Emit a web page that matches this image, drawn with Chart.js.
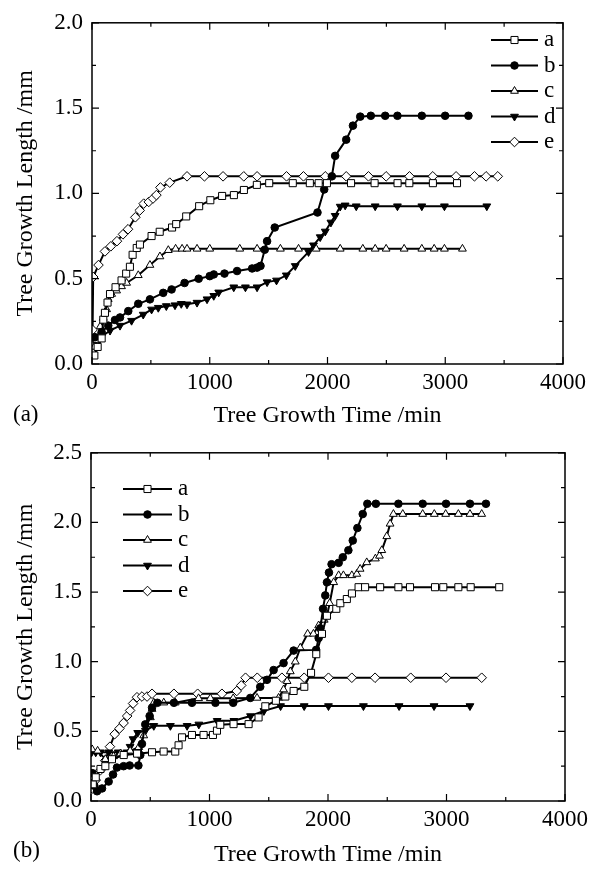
<!DOCTYPE html>
<html>
<head>
<meta charset="utf-8">
<title>Tree Growth Length vs Time</title>
<script src="https://cdn.jsdelivr.net/npm/chart.js@4.4.1/dist/chart.umd.min.js"></script>
<style>
  html, body { margin: 0; padding: 0; background: #fff; }
  body { width: 595px; height: 869px; position: relative; overflow: hidden; }
  .panel { position: absolute; left: 0; width: 595px; }
  #panelA { top: 0; height: 430px; }
  #panelB { top: 430px; height: 439px; }
  .tag { position: absolute; left: 13px; font: 23px 'Liberation Serif', 'Times New Roman', serif; color: #000; }
</style>
</head>
<body>
<div class="panel" id="panelA"><canvas id="chartA"></canvas></div>
<div class="panel" id="panelB"><canvas id="chartB"></canvas></div>
<div class="tag" style="top:401px">(a)</div>
<div class="tag" style="top:837px">(b)</div>
<script>
// ---- data: panel (a) ----
const labelsAB = ['a', 'b', 'c', 'd', 'e'];
const xTicks = [0, 1000, 2000, 3000, 4000];

const aTopX = [20, 48, 82, 96, 110, 132, 153, 200, 251, 290, 322, 345, 380, 407, 506, 575, 680, 715, 800, 910, 1005, 1105, 1205, 1290, 1400, 1505, 1705, 1850, 1925, 1995, 2200, 2400, 2595, 2695, 2895, 3100];
const aTopY = [0.05, 0.10, 0.15, 0.26, 0.30, 0.36, 0.41, 0.45, 0.49, 0.53, 0.57, 0.64, 0.68, 0.70, 0.75, 0.775, 0.80, 0.82, 0.865, 0.925, 0.96, 0.985, 0.99, 1.02, 1.05, 1.06, 1.06, 1.06, 1.06, 1.06, 1.06, 1.06, 1.06, 1.06, 1.06, 1.06];

const bTopX = [25, 82, 138, 195, 238, 308, 393, 492, 605, 676, 786, 906, 1000, 1034, 1125, 1232, 1360, 1402, 1431, 1467, 1487, 1552, 1915, 1972, 2037, 2065, 2159, 2216, 2278, 2368, 2490, 2594, 2801, 2999, 3197];
const bTopY = [0.157, 0.186, 0.225, 0.258, 0.273, 0.31, 0.353, 0.379, 0.417, 0.437, 0.475, 0.50, 0.515, 0.525, 0.53, 0.545, 0.56, 0.565, 0.575, 0.67, 0.72, 0.80, 0.888, 1.023, 1.10, 1.22, 1.315, 1.397, 1.45, 1.455, 1.455, 1.455, 1.455, 1.455, 1.455];

const cTopX = [20, 40, 70, 96, 124, 138, 167, 209, 251, 294, 393, 492, 577, 648, 710, 765, 807, 892, 1000, 1255, 1402, 1600, 1754, 1904, 2108, 2300, 2405, 2498, 2651, 2801, 2906, 2993, 3146];
const cTopY = [0.10, 0.14, 0.22, 0.27, 0.32, 0.38, 0.41, 0.43, 0.455, 0.475, 0.52, 0.58, 0.63, 0.667, 0.675, 0.675, 0.675, 0.675, 0.675, 0.675, 0.675, 0.675, 0.675, 0.675, 0.675, 0.675, 0.675, 0.675, 0.675, 0.675, 0.675, 0.675, 0.675];

const dTopX = [25, 82, 153, 238, 336, 435, 506, 563, 631, 705, 758, 807, 892, 977, 1034, 1076, 1204, 1303, 1402, 1487, 1567, 1650, 1726, 1839, 1881, 1938, 1981, 2029, 2065, 2108, 2150, 2244, 2405, 2594, 2801, 2993, 3353];
const dTopY = [0.138, 0.16, 0.196, 0.225, 0.254, 0.29, 0.32, 0.33, 0.34, 0.345, 0.353, 0.35, 0.36, 0.38, 0.40, 0.42, 0.45, 0.45, 0.45, 0.48, 0.49, 0.52, 0.575, 0.657, 0.696, 0.744, 0.777, 0.83, 0.869, 0.923, 0.93, 0.925, 0.925, 0.925, 0.925, 0.925, 0.925];

const eTopX = [5, 10, 55, 110, 160, 212, 263, 306, 368, 405, 439, 482, 518, 547, 581, 660, 807, 955, 1113, 1289, 1402, 1652, 1796, 1981, 2159, 2348, 2498, 2696, 2894, 3092, 3248, 3347, 3446];
const eTopY = [0.20, 0.51, 0.58, 0.66, 0.69, 0.72, 0.76, 0.79, 0.86, 0.90, 0.94, 0.95, 0.97, 0.99, 1.035, 1.063, 1.10, 1.10, 1.10, 1.10, 1.10, 1.10, 1.10, 1.10, 1.10, 1.10, 1.10, 1.10, 1.10, 1.10, 1.10, 1.10, 1.10];

// ---- data: panel (b) ----
const aBotX = [15, 40, 80, 121, 177, 276, 389, 515, 613, 711, 739, 768, 852, 950, 1029, 1063, 1091, 1203, 1330, 1414, 1471, 1560, 1640, 1710, 1800, 1857, 1901, 1949, 1991, 2070, 2104, 2159, 2202, 2258, 2313, 2440, 2594, 2692, 2903, 2973, 3100, 3204, 3445];
const aBotY = [0.12, 0.17, 0.23, 0.25, 0.30, 0.33, 0.34, 0.35, 0.355, 0.355, 0.40, 0.457, 0.474, 0.474, 0.474, 0.505, 0.547, 0.552, 0.552, 0.60, 0.68, 0.72, 0.75, 0.79, 0.82, 0.92, 1.054, 1.20, 1.33, 1.38, 1.42, 1.45, 1.49, 1.535, 1.535, 1.535, 1.535, 1.535, 1.535, 1.535, 1.535, 1.535, 1.535];

const bBotX = [10, 28, 51, 93, 149, 186, 219, 275, 326, 400, 416, 430, 458, 495, 515, 560, 700, 852, 1050, 1200, 1344, 1428, 1485, 1541, 1625, 1710, 1900, 1921, 1935, 1958, 1977, 1991, 2008, 2030, 2090, 2125, 2172, 2209, 2248, 2293, 2332, 2404, 2594, 2799, 2996, 3198, 3333];
const bBotY = [0.20, 0.11, 0.07, 0.09, 0.14, 0.19, 0.24, 0.25, 0.255, 0.255, 0.33, 0.41, 0.55, 0.61, 0.67, 0.705, 0.705, 0.705, 0.705, 0.705, 0.74, 0.82, 0.87, 0.94, 0.99, 1.08, 1.085, 1.17, 1.24, 1.38, 1.476, 1.57, 1.64, 1.70, 1.71, 1.75, 1.80, 1.87, 1.96, 2.06, 2.134, 2.134, 2.134, 2.134, 2.134, 2.134, 2.134];

const cBotX = [10, 56, 121, 190, 248, 330, 403, 445, 473, 501, 515, 530, 614, 711, 908, 1007, 1200, 1401, 1583, 1625, 1655, 1682, 1724, 1766, 1828, 1877, 1921, 1968, 1991, 2014, 2048, 2090, 2130, 2201, 2243, 2271, 2327, 2400, 2434, 2454, 2496, 2524, 2552, 2631, 2799, 2897, 2993, 3100, 3198, 3297];
const cBotY = [0.37, 0.36, 0.30, 0.32, 0.34, 0.36, 0.386, 0.47, 0.55, 0.60, 0.66, 0.706, 0.706, 0.706, 0.737, 0.737, 0.737, 0.74, 0.74, 0.80, 0.86, 0.93, 1.00, 1.10, 1.20, 1.20, 1.26, 1.30, 1.33, 1.42, 1.57, 1.62, 1.62, 1.62, 1.63, 1.666, 1.713, 1.74, 1.76, 1.80, 1.90, 1.99, 2.06, 2.06, 2.06, 2.06, 2.06, 2.06, 2.06, 2.06];

const dBotX = [5, 40, 80, 150, 230, 304, 330, 355, 394, 459, 530, 670, 811, 910, 1065, 1206, 1346, 1459, 1600, 1799, 2004, 2299, 2600, 2895, 3198];
const dBotY = [0.35, 0.35, 0.35, 0.35, 0.35, 0.35, 0.39, 0.445, 0.49, 0.505, 0.54, 0.54, 0.54, 0.55, 0.576, 0.576, 0.61, 0.647, 0.682, 0.682, 0.682, 0.682, 0.682, 0.682, 0.682];

const eBotX = [10, 40, 78, 120, 160, 200, 240, 275, 305, 330, 355, 388, 430, 473, 515, 700, 900, 1105, 1230, 1268, 1304, 1403, 1611, 1799, 2004, 2201, 2397, 2698, 2996, 3297];
const eBotY = [0.09, 0.15, 0.22, 0.29, 0.39, 0.48, 0.52, 0.56, 0.61, 0.65, 0.70, 0.745, 0.75, 0.75, 0.77, 0.77, 0.77, 0.77, 0.79, 0.83, 0.885, 0.885, 0.885, 0.885, 0.885, 0.885, 0.885, 0.885, 0.885, 0.885];

// ---- styles ----
const FONT = "'Liberation Serif', 'Times New Roman', serif";
const markers = [
  { pointStyle: 'rect',    radius: 5,   fill: '#fff', rotation: 0 },   // a  open square
  { pointStyle: 'circle',  radius: 3.8, fill: '#000', rotation: 0 },   // b  filled circle
  { pointStyle: 'triangle',radius: 4.5, fill: '#fff', rotation: 0 },   // c  open triangle
  { pointStyle: 'triangle',radius: 4.5, fill: '#000', rotation: 180 }, // d  filled down triangle
  { pointStyle: 'rectRot', radius: 4.8, fill: '#fff', rotation: 0 }    // e  open diamond
];

function pts(xs, ys) {
  return xs.map(function (x, i) { return { x: x, y: ys[i] }; });
}

function makeDatasets(series) {
  return series.map(function (s, i) {
    const m = markers[i];
    return {
      label: labelsAB[i],
      data: pts(s[0], s[1]),
      borderColor: '#000',
      borderWidth: 2,
      backgroundColor: m.fill,
      pointStyle: m.pointStyle,
      pointRotation: m.rotation,
      pointRadius: m.radius,
      pointBackgroundColor: m.fill,
      pointBorderColor: '#000',
      pointBorderWidth: 1,
      tension: 0,
      fill: false
    };
  });
}

// frame box + inward major/minor ticks on all four sides
const frameTicks = {
  id: 'frameTicks',
  afterDatasetsDraw(chart) {
    const ctx = chart.ctx;
    const a = chart.chartArea;
    const xs = chart.scales.x, ys = chart.scales.y;
    ctx.save();
    ctx.strokeStyle = '#000';
    ctx.lineWidth = 1.5;
    ctx.strokeRect(a.left, a.top, a.right - a.left, a.bottom - a.top);
    ctx.lineWidth = 1.2;
    ctx.beginPath();
    const xStep = 1000, yStep = 0.5;
    for (let v = xs.min; v <= xs.max + 1e-9; v += xStep / 2) {
      const px = xs.getPixelForValue(v);
      const len = (Math.round(v / (xStep / 2)) % 2 === 0) ? 7 : 4;
      ctx.moveTo(px, a.bottom); ctx.lineTo(px, a.bottom - len);
      ctx.moveTo(px, a.top); ctx.lineTo(px, a.top + len);
    }
    for (let v = ys.min; v <= ys.max + 1e-9; v += yStep / 2) {
      const py = ys.getPixelForValue(v);
      const len = (Math.round(v / (yStep / 2)) % 2 === 0) ? 7 : 4;
      ctx.moveTo(a.left, py); ctx.lineTo(a.left + len, py);
      ctx.moveTo(a.right, py); ctx.lineTo(a.right - len, py);
    }
    ctx.stroke();
    ctx.restore();
  }
};

// line + marker legend placed inside the plot
const lineLegend = {
  id: 'lineLegend',
  afterDraw(chart, args, opts) {
    const ctx = chart.ctx;
    ctx.save();
    chart.data.datasets.forEach(function (ds, i) {
      const y = opts.y + i * opts.gap;
      ctx.strokeStyle = '#000';
      ctx.lineWidth = 2;
      ctx.beginPath();
      ctx.moveTo(opts.x, y);
      ctx.lineTo(opts.x + opts.len, y);
      ctx.stroke();
      ctx.fillStyle = ds.pointBackgroundColor;
      ctx.lineWidth = 1;
      Chart.helpers.drawPoint(ctx, {
        pointStyle: ds.pointStyle, rotation: ds.pointRotation,
        radius: ds.pointRadius, borderWidth: 1
      }, opts.x + opts.len / 2, y);
      ctx.fillStyle = '#000';
      ctx.font = '23px ' + FONT;
      ctx.textBaseline = 'middle';
      ctx.textAlign = 'left';
      ctx.fillText(ds.label, opts.x + opts.len + 6, y);
    });
    ctx.restore();
  }
};

function makeChart(id, series, yMax, pad, yWidth, xHeight, legend) {
  return new Chart(document.getElementById(id), {
    type: 'line',
    data: { datasets: makeDatasets(series) },
    plugins: [frameTicks, lineLegend],
    options: {
      responsive: true,
      maintainAspectRatio: false,
      animation: false,
      layout: { padding: pad },
      plugins: {
        legend: { display: false },
        tooltip: { enabled: false },
        lineLegend: legend
      },
      scales: {
        x: {
          type: 'linear',
          min: 0, max: 4000,
          afterBuildTicks: function (s) { s.ticks = xTicks.map(function (v) { return { value: v }; }); },
          afterFit: function (s) { s.height = xHeight; },
          grid: { display: false, drawTicks: false },
          border: { display: false },
          ticks: { color: '#000', padding: 5, maxRotation: 0, font: { family: FONT, size: 23 },
                   callback: function (v) { return String(v); } },
          title: { display: true, text: 'Tree Growth Time /min', color: '#000',
                   font: { family: FONT, size: 24 }, padding: { top: 0, bottom: 0 } }
        },
        y: {
          min: 0, max: yMax,
          afterFit: function (s) { s.width = yWidth; },
          grid: { display: false, drawTicks: false },
          border: { display: false },
          ticks: { color: '#000', padding: 9, stepSize: 0.5, font: { family: FONT, size: 23 },
                   callback: function (v) { return Number(v).toFixed(1); } },
          title: { display: true, text: 'Tree Growth Length /mm', color: '#000',
                   font: { family: FONT, size: 24 }, padding: { top: 11, bottom: 0 } }
        }
      }
    }
  });
}

makeChart('chartA',
  [[aTopX, aTopY], [bTopX, bTopY], [cTopX, cTopY], [dTopX, dTopY], [eTopX, eTopY]],
  2.0, { top: 17, right: 32, left: 0, bottom: 0 }, 92, 66,
  { x: 491, y: 40, gap: 25.5, len: 47 });

makeChart('chartB',
  [[aBotX, aBotY], [bBotX, bBotY], [cBotX, cBotY], [dBotX, dBotY], [eBotX, eBotY]],
  2.5, { top: 19, right: 30, left: 0, bottom: 0 }, 91, 68,
  { x: 123, y: 59, gap: 25.5, len: 49 });
</script>
</body>
</html>
